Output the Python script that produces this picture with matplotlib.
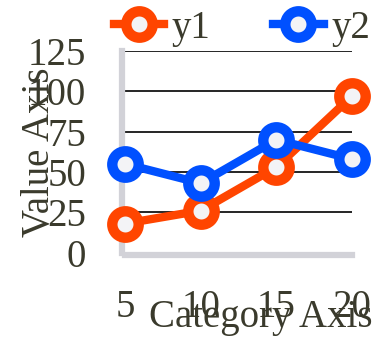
import matplotlib
matplotlib.use("Agg")
from matplotlib import pyplot as plt

categories = [5, 10, 15, 20]
y1 = [18, 26, 53, 97]
y2 = [55, 43, 70, 58]
yticks = [0, 25, 50, 75, 100, 125]

text_color = "#3a3a2c"
plt.rcParams["font.family"] = ["Liberation Serif", "DejaVu Serif"]
fs = 28

fig = plt.figure(figsize=(3.84, 3.6), dpi=100)
ax = fig.add_axes([125 / 384, 107.4 / 360, 227 / 384, 201.6 / 360])

for vals, color, label in [(y1, "#ff4500", "y1"), (y2, "#0050ff", "y2")]:
    ax.plot(categories, vals, color=color, lw=6, marker="o", ms=19,
            mfc="#f3f3f6", mec=color, mew=7.5, label=label,
            clip_on=False, zorder=3)

ax.set_xlim(5, 20)
ax.set_ylim(0, 125)
ax.set_xticks(categories)
ax.set_yticks(yticks)
ax.yaxis.grid(True, color="black", lw=1.2)
ax.set_axisbelow(True)

for side in ["top", "right"]:
    ax.spines[side].set_visible(False)
for side in ["left", "bottom"]:
    ax.spines[side].set_color("#d2d2d8")
    ax.spines[side].set_linewidth(4.5)
    ax.spines[side].set_position(("outward", 2))

ax.tick_params(length=0, labelsize=fs, labelcolor=text_color, pad=24)
ax.tick_params(axis="y", pad=26)
ax.set_xlabel("Category Axis", fontsize=fs, color=text_color, labelpad=-19)
ax.xaxis.label.set_x(0.6)
ax.set_ylabel("Value Axis", fontsize=fs, color=text_color, labelpad=-22)

fig.legend(loc="center", bbox_to_anchor=(0.63, 0.922), ncol=2, frameon=False,
           fontsize=fs, labelcolor=text_color, handlelength=1.3,
           handletextpad=0.2, columnspacing=1.6, borderaxespad=0)

fig.savefig("out.png", dpi=100)
